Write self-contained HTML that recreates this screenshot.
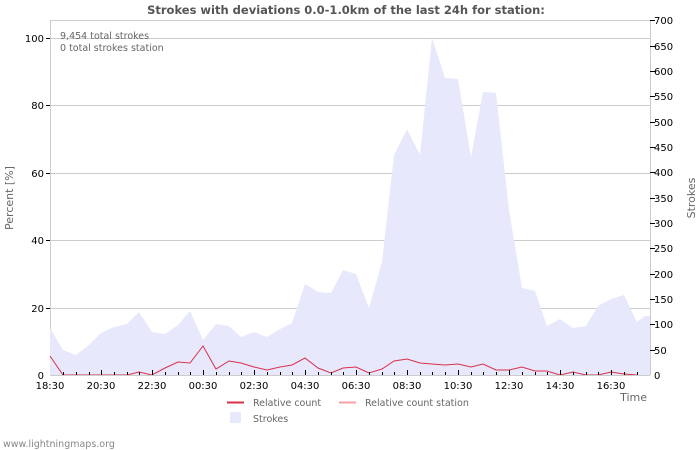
<!DOCTYPE html><html><head><style>body{margin:0;background:#fff}svg{display:block;font-family:"DejaVu Sans","Liberation Sans",sans-serif}</style></head><body>
<svg width="700" height="450" viewBox="0 0 700 450">
<text x="346" y="14" text-anchor="middle" font-size="11.5" font-weight="bold" fill="#555">Strokes with deviations 0.0-1.0km of the last 24h for station:</text>
<g stroke="#ccc" stroke-width="1">
<line x1="50" y1="38.5" x2="650" y2="38.5"/><line x1="50" y1="105.5" x2="650" y2="105.5"/><line x1="50" y1="173.5" x2="650" y2="173.5"/><line x1="50" y1="240.5" x2="650" y2="240.5"/><line x1="50" y1="308.5" x2="650" y2="308.5"/>
<line x1="50.5" y1="20" x2="50.5" y2="375"/><line x1="650.5" y1="20" x2="650.5" y2="375"/><line x1="50" y1="20.5" x2="650" y2="20.5"/>
</g>
<polygon fill="#e8e8fc" points="50,375 50,328 63,350 76,355 89,345 101,333 114,327 127,324 139,312 152,332 165,334 178,325 190,311 203,340 216,324 229,326 241,337 254,332 267,337 280,329 292,323 305,284 318,292 331,293 343,270 356,274 369,308 382,262 394,155 407,129 420,155 432,38 445,78 458,79 471,157 483,92 496,93 509,210 522,288 535,291 547,326 560,319 573,328 586,326 598,306 611,299 624,295 637,322 645,316 650,316 650,375"/>
<polyline fill="none" stroke="#d9304a" stroke-width="1" points="50,356 63,375 76,375 127,375 139,372 152,375 165,368 178,362 190,363 203,346 216,369 229,361 241,363 254,367 267,370 280,367 292,365 305,358 318,368 331,373 343,368 356,367 369,373 382,369 394,361 407,359 420,363 432,364 445,365 458,364 471,367 483,364 496,370 509,370 522,367 535,371 547,371 560,375 573,372 586,375 598,375 611,372 624,374 637,375"/>
<line x1="50" y1="375.5" x2="650" y2="375.5" stroke="#ccc"/>
<g stroke="#000" stroke-width="1">
<path d="M63.5 372v3M76.5 372v3M89.5 372v3M114.5 372v3M127.5 372v3M139.5 372v3M165.5 372v3M178.5 372v3M190.5 372v3M216.5 372v3M229.5 372v3M241.5 372v3M267.5 372v3M280.5 372v3M292.5 372v3M318.5 372v3M331.5 372v3M343.5 372v3M369.5 372v3M382.5 372v3M394.5 372v3M420.5 372v3M432.5 372v3M445.5 372v3M471.5 372v3M483.5 372v3M496.5 372v3M522.5 372v3M535.5 372v3M547.5 372v3M573.5 372v3M586.5 372v3M598.5 372v3M624.5 372v3M637.5 372v3"/>
<path d="M101.5 370v5M152.5 370v5M203.5 370v5M254.5 370v5M305.5 370v5M356.5 370v5M407.5 370v5M458.5 370v5M509.5 370v5M560.5 370v5M611.5 370v5"/>
<path d="M46 38.5h4M46 105.5h4M46 173.5h4M46 240.5h4M46 308.5h4"/>
<path d="M650 20.5h5M650 46.5h5M650 71.5h5M650 96.5h5M650 122.5h5M650 147.5h5M650 172.5h5M650 198.5h5M650 223.5h5M650 248.5h5M650 274.5h5M650 299.5h5M650 324.5h5M650 350.5h5"/>
</g>
<g font-size="10" fill="#000">
<text x="44" y="42" text-anchor="end">100</text><text x="44" y="109" text-anchor="end">80</text><text x="44" y="177" text-anchor="end">60</text><text x="44" y="244" text-anchor="end">40</text><text x="44" y="312" text-anchor="end">20</text><text x="44" y="379" text-anchor="end">0</text>
<g text-anchor="start"><text x="654" y="24">700</text><text x="654" y="50">650</text><text x="654" y="75">600</text><text x="654" y="100">550</text><text x="654" y="126">500</text><text x="654" y="151">450</text><text x="654" y="176">400</text><text x="654" y="202">350</text><text x="654" y="227">300</text><text x="654" y="252">250</text><text x="654" y="278">200</text><text x="654" y="303">150</text><text x="654" y="328">100</text><text x="654" y="354">50</text><text x="654" y="379">0</text></g>
<g text-anchor="middle"><text x="50" y="389">18:30</text><text x="101" y="389">20:30</text><text x="152" y="389">22:30</text><text x="203" y="389">00:30</text><text x="254" y="389">02:30</text><text x="305" y="389">04:30</text><text x="356" y="389">06:30</text><text x="407" y="389">08:30</text><text x="458" y="389">10:30</text><text x="509" y="389">12:30</text><text x="560" y="389">14:30</text><text x="611" y="389">16:30</text></g>
</g>
<g font-size="9.5" fill="#666"><text x="60" y="39">9,454 total strokes</text><text x="60" y="51">0 total strokes station</text></g>
<text x="647" y="401" text-anchor="end" font-size="11" fill="#666">Time</text>
<text transform="translate(13,198) rotate(-90)" text-anchor="middle" font-size="11" fill="#666">Percent   [%]</text>
<text transform="translate(695,198) rotate(-90)" text-anchor="middle" font-size="11" fill="#666">Strokes</text>
<line x1="227" y1="402.5" x2="244" y2="402.5" stroke="#d9304a" stroke-width="2"/>
<text x="253" y="406" font-size="9.5" fill="#666">Relative count</text>
<line x1="339" y1="402.5" x2="356" y2="402.5" stroke="#f4a0a8" stroke-width="2"/>
<text x="365" y="406" font-size="9.5" fill="#666">Relative count station</text>
<rect x="230" y="412" width="11" height="11" fill="#e8e8fc"/>
<text x="253" y="422" font-size="9.5" fill="#666">Strokes</text>
<text x="3" y="447" font-size="9.5" fill="#888">www.lightningmaps.org</text>
</svg></body></html>
